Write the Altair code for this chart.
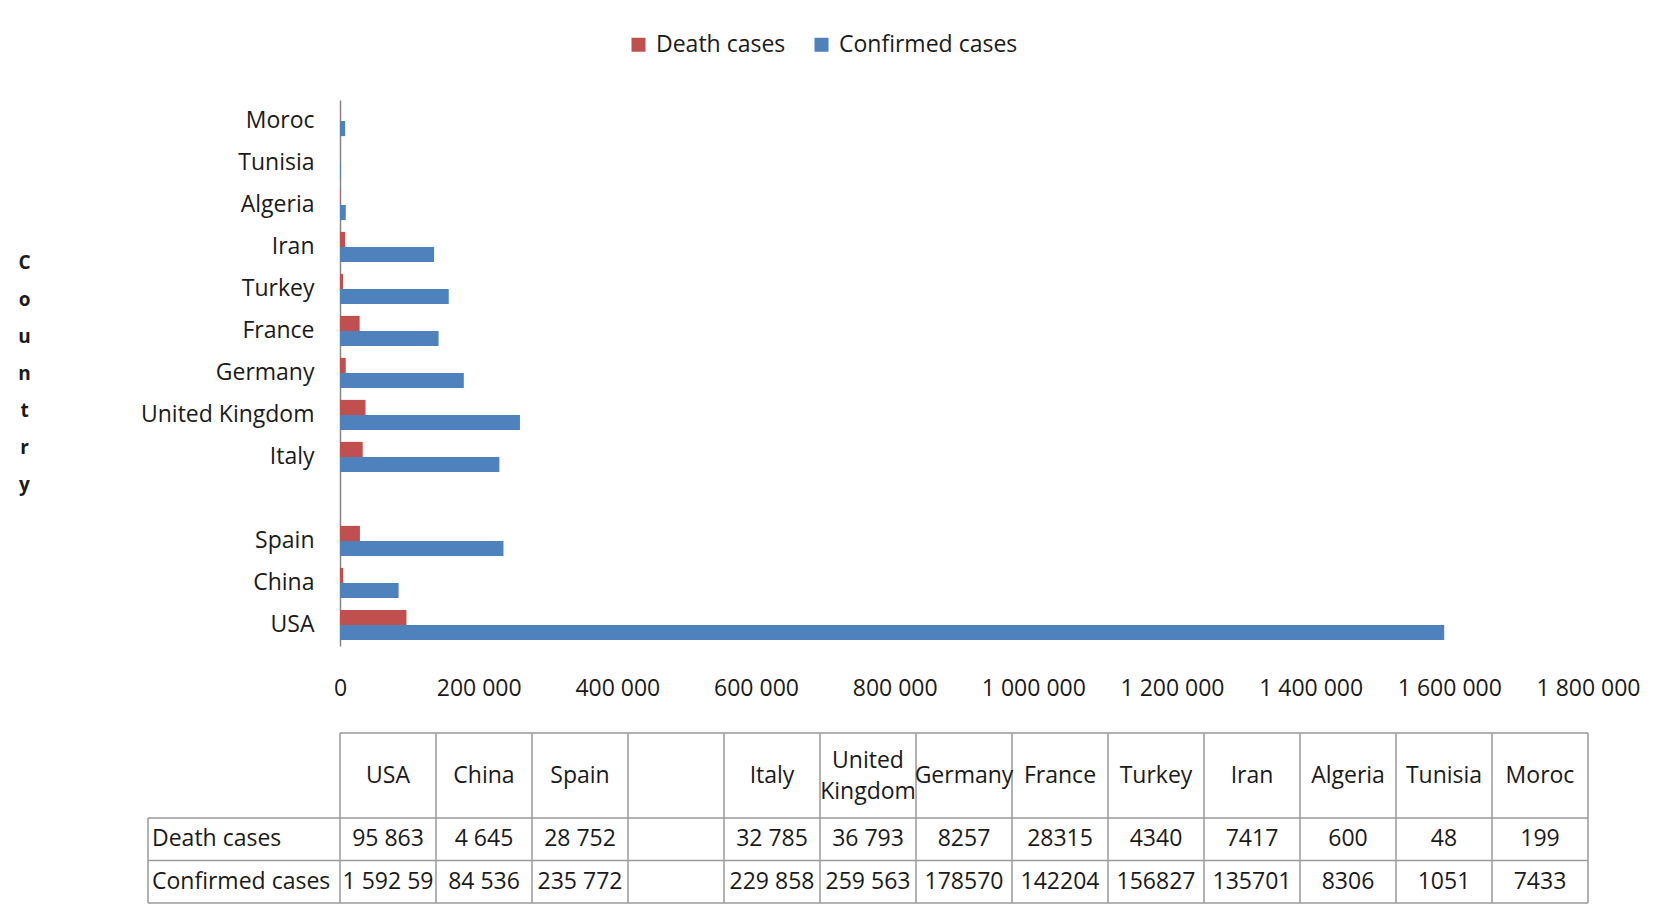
import altair as alt
import pandas as pd

# ---------------- data ----------------
countries = ["USA", "China", "Spain", " ", "Italy", "United Kingdom", "Germany",
             "France", "Turkey", "Iran", "Algeria", "Tunisia", "Moroc"]
header_labels = ["USA", "China", "Spain", "", "Italy", "United\nKingdom", "Germany",
                 "France", "Turkey", "Iran", "Algeria", "Tunisia", "Moroc"]
death = [95863, 4645, 28752, None, 32785, 36793, 8257, 28315, 4340, 7417, 600, 48, 199]
confirmed = [1592590, 84536, 235772, None, 229858, 259563, 178570, 142204, 156827,
             135701, 8306, 1051, 7433]
death_text = ["95 863", "4 645", "28 752", "", "32 785", "36 793", "8257", "28315",
              "4340", "7417", "600", "48", "199"]
confirmed_text = ["1 592 59", "84 536", "235 772", "", "229 858", "259 563", "178570",
                  "142204", "156827", "135701", "8306", "1051", "7433"]
series = ["Death cases", "Confirmed cases"]
colors = ["#C0504D", "#4F81BD"]
x_ticks = [0, 200000, 400000, 600000, 800000, 1000000, 1200000, 1400000, 1600000, 1800000]

FONT = "Open Sans"
FS = 23
TXT = "#1a1a1a"
GRID = "#9a9a9a"

# ---------------- bar chart ----------------
rows = []
for c, d, v in zip(countries, death, confirmed):
    if d is not None:
        rows.append({"country": c, "series": series[0], "value": d})
    if v is not None:
        rows.append({"country": c, "series": series[1], "value": v})
bars_df = pd.DataFrame(rows)

y_order = list(reversed(countries))

bars = alt.Chart(bars_df).mark_bar().encode(
    x=alt.X("value:Q",
            scale=alt.Scale(domain=[0, 1800000], nice=False),
            axis=alt.Axis(values=x_ticks, title=None, grid=False, domain=False, ticks=False,
                          labelPadding=31, labelFlush=False, labelOverlap=False,
                          labelFontSize=FS, labelFont=FONT, labelColor=TXT,
                          labelExpr="replace(format(datum.value, ','), regexp(',', 'g'), ' ')")),
    y=alt.Y("country:N", sort=y_order,
            scale=alt.Scale(domain=y_order, paddingInner=0.28, paddingOuter=0.14),
            axis=alt.Axis(title=list("Country"), titleAngle=0, titleX=-316, titleY=162,
                          titleAlign="center", titleBaseline="middle", titleLineHeight=37,
                          titleFontSize=19, titleFontWeight="bold", titleFont=FONT,
                          titleColor=TXT, ticks=False, domainColor="#868686",
                          domainWidth=1.5, labelPadding=26, labelFontSize=FS,
                          labelFont=FONT, labelColor=TXT, labelLimit=300)),
    yOffset=alt.YOffset("series:N", sort=series, scale=alt.Scale(domain=series)),
    color=alt.Color("series:N",
                    scale=alt.Scale(domain=series, range=colors),
                    legend=alt.Legend(orient="none", legendX=287, legendY=-67,
                                      direction="horizontal", title=None,
                                      symbolType="square", symbolSize=196,
                                      symbolStrokeWidth=0, labelFontSize=FS,
                                      labelFont=FONT, labelColor=TXT, labelLimit=300,
                                      columnPadding=24, labelOffset=6)),
).properties(width=1248, height=546)

# ---------------- data table ----------------
x_dom = ["lab1", "lab2"] + countries
y_dom = ["h1", "h2", "Death cases", "Confirmed cases"]
xs = alt.Scale(domain=x_dom, range=[-192, 1248], paddingInner=0, paddingOuter=0)
ys = alt.Scale(domain=y_dom, paddingInner=0, paddingOuter=0)

single = [(c, h) for c, h in zip(countries, header_labels) if "\n" not in h]
multi = [(c, h) for c, h in zip(countries, header_labels) if "\n" in h]
head_df = pd.DataFrame({"col": [c for c, _ in single], "row": "h1",
                        "text": [h for _, h in single]})
head2_df = pd.DataFrame({"col": [c for c, _ in multi], "row": "h1",
                         "text": [h for _, h in multi]})
num_df = pd.DataFrame({
    "col": countries * 2,
    "row": ["Death cases"] * len(countries) + ["Confirmed cases"] * len(countries),
    "text": death_text + confirmed_text,
})
lab_df = pd.DataFrame({"col": ["lab1", "lab1"], "row": series, "text": series})

vline_df = pd.DataFrame({
    "col": countries + ["lab1"],
    "y0": ["h1"] * len(countries) + ["Death cases"],
    "y1": ["Confirmed cases"] * (len(countries) + 1),
})
vend_df = pd.DataFrame({"col": [countries[-1]], "y0": ["h1"], "y1": ["Confirmed cases"]})
hline_df = pd.DataFrame({
    "row": ["h1", "Death cases", "Confirmed cases"],
    "x0": [countries[0], "lab1", "lab1"],
    "x1": [countries[-1]] * 3,
})
hend_df = pd.DataFrame({"row": ["Confirmed cases"], "x0": ["lab1"], "x1": [countries[-1]]})

text_kw = dict(fontSize=FS, font=FONT, color=TXT, baseline="middle")

head = alt.Chart(head_df).mark_text(**text_kw).encode(
    x=alt.X("col:N", scale=xs, axis=None),
    y=alt.Y("row:N", scale=ys, axis=None, bandPosition=1),
    text="text:N",
)
head2 = alt.Chart(head2_df).mark_text(lineBreak="\n", lineHeight=31, dy=-15, **text_kw).encode(
    x=alt.X("col:N", scale=xs, axis=None),
    y=alt.Y("row:N", scale=ys, axis=None, bandPosition=1),
    text="text:N",
)
nums = alt.Chart(num_df).mark_text(**text_kw).encode(
    x=alt.X("col:N", scale=xs, axis=None),
    y=alt.Y("row:N", scale=ys, axis=None),
    text="text:N",
)
labs = alt.Chart(lab_df).mark_text(align="left", dx=4, **text_kw).encode(
    x=alt.X("col:N", scale=xs, axis=None, bandPosition=0),
    y=alt.Y("row:N", scale=ys, axis=None),
    text="text:N",
)
vlines = alt.Chart(vline_df).mark_rule(color=GRID, strokeWidth=1.5).encode(
    x=alt.X("col:N", scale=xs, axis=None, bandPosition=0),
    y=alt.Y("y0:N", scale=ys, axis=None, bandPosition=0),
    y2=alt.Y2("y1:N", bandPosition=1),
)
vend = alt.Chart(vend_df).mark_rule(color=GRID, strokeWidth=1.5).encode(
    x=alt.X("col:N", scale=xs, axis=None, bandPosition=1),
    y=alt.Y("y0:N", scale=ys, axis=None, bandPosition=0),
    y2=alt.Y2("y1:N", bandPosition=1),
)
hlines = alt.Chart(hline_df).mark_rule(color=GRID, strokeWidth=1.5).encode(
    y=alt.Y("row:N", scale=ys, axis=None, bandPosition=0),
    x=alt.X("x0:N", scale=xs, axis=None, bandPosition=0),
    x2=alt.X2("x1:N", bandPosition=1),
)
hend = alt.Chart(hend_df).mark_rule(color=GRID, strokeWidth=1.5).encode(
    y=alt.Y("row:N", scale=ys, axis=None, bandPosition=1),
    x=alt.X("x0:N", scale=xs, axis=None, bandPosition=0),
    x2=alt.X2("x1:N", bandPosition=1),
)

table = alt.layer(vlines, vend, hlines, hend, head, head2, nums, labs).properties(
    width=1248, height=170)

chart = alt.vconcat(bars, table, spacing=32).properties(
    padding={"left": 9, "top": 25, "right": 5, "bottom": 0}
).configure(font=FONT).configure_view(stroke=None)

chart.save("out.html", embed_options={"renderer": "svg", "actions": False})
